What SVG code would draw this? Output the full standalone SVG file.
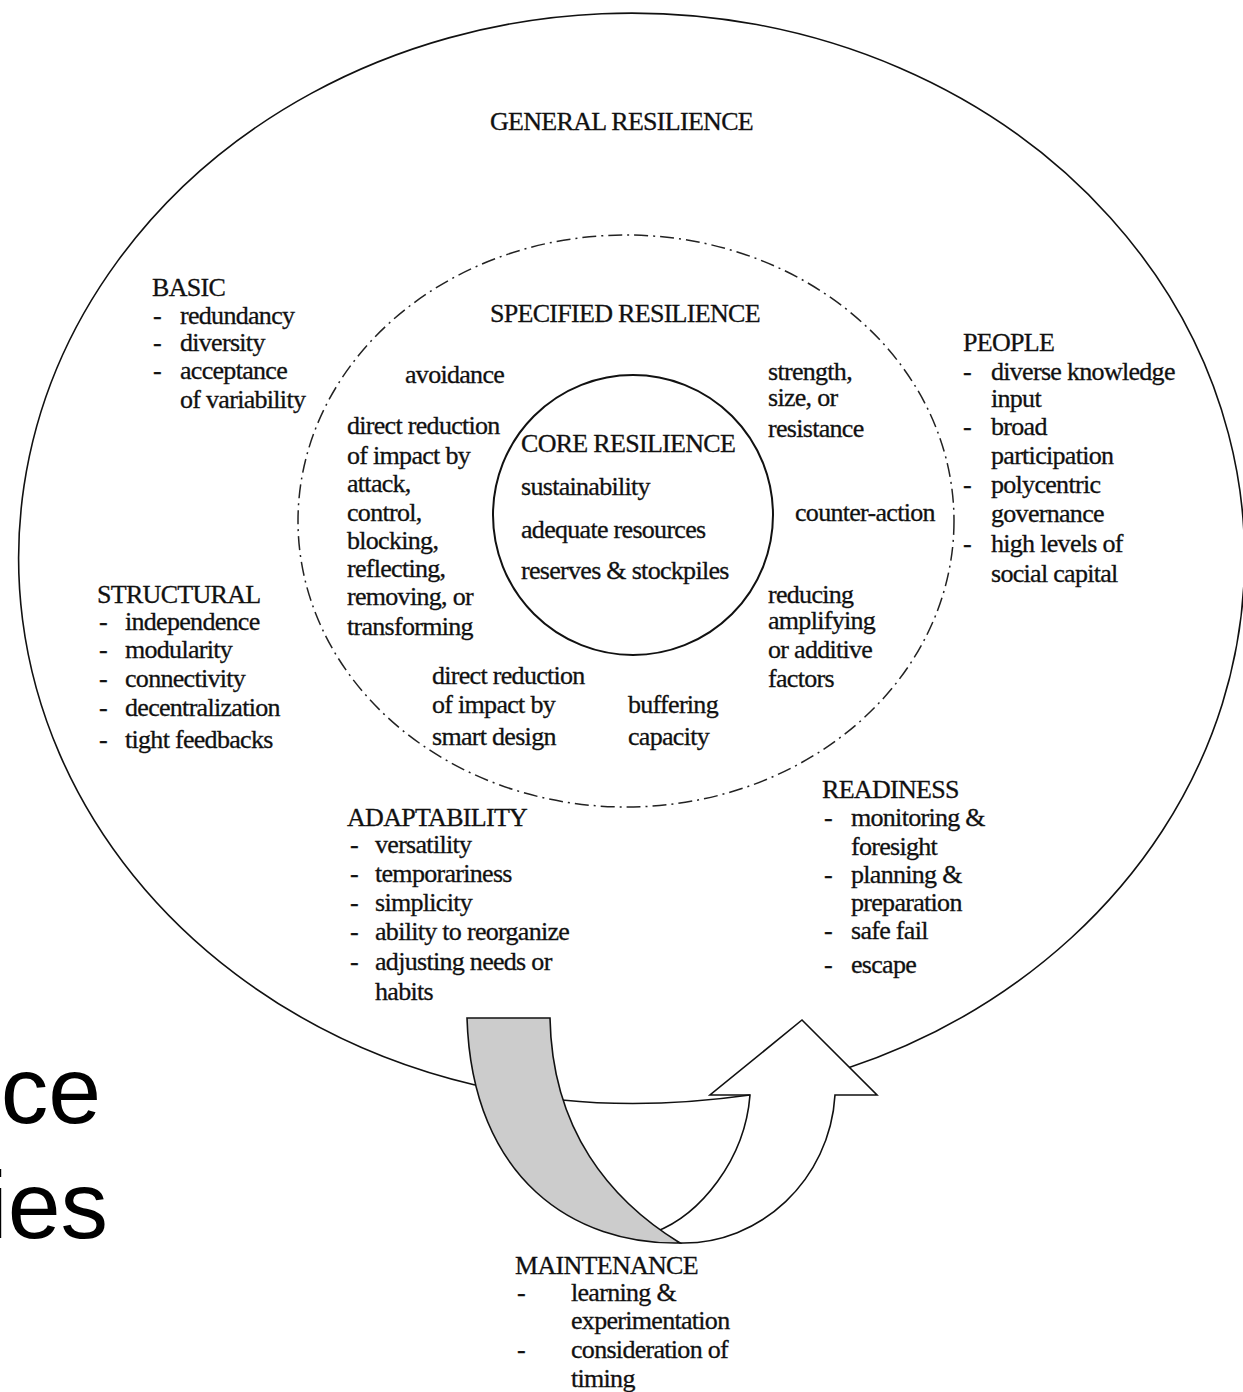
<svg xmlns="http://www.w3.org/2000/svg" width="1243" height="1392" viewBox="0 0 1243 1392">
<style>
.t{font-family:"Liberation Serif","Times New Roman",serif;font-size:26px;letter-spacing:-0.7px;fill:#111;stroke:#111;stroke-width:0.3}
.big{font-family:"Liberation Sans",Arial,sans-serif;font-size:95px;fill:#000}
.ln{fill:none;stroke:#111;stroke-width:1.6}
.dd{fill:none;stroke:#222;stroke-width:1.5;stroke-dasharray:14 5 2 5}
</style>
<rect width="1243" height="1392" fill="#fff"/>

<g id="side-text">
<text class="big" x="101" y="1123" text-anchor="end">ce</text>
<text class="big" x="108" y="1238" text-anchor="end">ies</text>
</g>

<g id="general-resilience">
<path class="ln" d="M 475 1085 A 613 545 0 1 1 845 1069"/>
<text class="t" x="490" y="130">GENERAL RESILIENCE</text>
</g>

<g id="specified-resilience">
<ellipse class="dd" cx="626" cy="521" rx="328" ry="286"/>
<text class="t" x="490" y="322">SPECIFIED RESILIENCE</text>
<text class="t" x="405" y="383">avoidance</text>
<text class="t" x="768" y="380">strength,</text>
<text class="t" x="768" y="406">size, or</text>
<text class="t" x="768" y="437">resistance</text>
<text class="t" x="347" y="434">direct reduction</text>
<text class="t" x="347" y="464">of impact by</text>
<text class="t" x="347" y="492">attack,</text>
<text class="t" x="347" y="521">control,</text>
<text class="t" x="347" y="549">blocking,</text>
<text class="t" x="347" y="577">reflecting,</text>
<text class="t" x="347" y="605">removing, or</text>
<text class="t" x="347" y="635">transforming</text>
<text class="t" x="795" y="521">counter-action</text>
<text class="t" x="768" y="603">reducing</text>
<text class="t" x="768" y="629">amplifying</text>
<text class="t" x="768" y="658">or additive</text>
<text class="t" x="768" y="687">factors</text>
<text class="t" x="432" y="684">direct reduction</text>
<text class="t" x="432" y="713">of impact by</text>
<text class="t" x="432" y="745">smart design</text>
<text class="t" x="628" y="713">buffering</text>
<text class="t" x="628" y="745">capacity</text>
</g>

<g id="core-resilience">
<circle cx="633" cy="515" r="140" fill="none" stroke="#111" stroke-width="2"/>
<text class="t" x="521" y="452">CORE RESILIENCE</text>
<text class="t" x="521" y="495">sustainability</text>
<text class="t" x="521" y="538">adequate resources</text>
<text class="t" x="521" y="579">reserves &amp; stockpiles</text>
</g>

<g id="basic">
<text class="t" x="152" y="296">BASIC</text>
<text class="t" x="153" y="324">-</text><text class="t" x="180" y="324">redundancy</text>
<text class="t" x="153" y="351">-</text><text class="t" x="180" y="351">diversity</text>
<text class="t" x="153" y="379">-</text><text class="t" x="180" y="379">acceptance</text>
<text class="t" x="180" y="408">of variability</text>
</g>

<g id="structural">
<text class="t" x="97" y="603">STRUCTURAL</text>
<text class="t" x="99" y="630">-</text><text class="t" x="125" y="630">independence</text>
<text class="t" x="99" y="658">-</text><text class="t" x="125" y="658">modularity</text>
<text class="t" x="99" y="687">-</text><text class="t" x="125" y="687">connectivity</text>
<text class="t" x="99" y="716">-</text><text class="t" x="125" y="716">decentralization</text>
<text class="t" x="99" y="748">-</text><text class="t" x="125" y="748">tight feedbacks</text>
</g>

<g id="people">
<text class="t" x="963" y="351">PEOPLE</text>
<text class="t" x="963" y="380">-</text><text class="t" x="991" y="380">diverse knowledge</text>
<text class="t" x="991" y="407">input</text>
<text class="t" x="963" y="435">-</text><text class="t" x="991" y="435">broad</text>
<text class="t" x="991" y="464">participation</text>
<text class="t" x="963" y="493">-</text><text class="t" x="991" y="493">polycentric</text>
<text class="t" x="991" y="522">governance</text>
<text class="t" x="963" y="552">-</text><text class="t" x="991" y="552">high levels of</text>
<text class="t" x="991" y="582">social capital</text>
</g>

<g id="adaptability">
<text class="t" x="347" y="826">ADAPTABILITY</text>
<text class="t" x="350" y="853">-</text><text class="t" x="375" y="853">versatility</text>
<text class="t" x="350" y="882">-</text><text class="t" x="375" y="882">temporariness</text>
<text class="t" x="350" y="911">-</text><text class="t" x="375" y="911">simplicity</text>
<text class="t" x="350" y="940">-</text><text class="t" x="375" y="940">ability to reorganize</text>
<text class="t" x="350" y="970">-</text><text class="t" x="375" y="970">adjusting needs or</text>
<text class="t" x="375" y="1000">habits</text>
</g>

<g id="readiness">
<text class="t" x="822" y="798">READINESS</text>
<text class="t" x="824" y="826">-</text><text class="t" x="851" y="826">monitoring &amp;</text>
<text class="t" x="851" y="855">foresight</text>
<text class="t" x="824" y="883">-</text><text class="t" x="851" y="883">planning &amp;</text>
<text class="t" x="851" y="911">preparation</text>
<text class="t" x="824" y="939">-</text><text class="t" x="851" y="939">safe fail</text>
<text class="t" x="824" y="973">-</text><text class="t" x="851" y="973">escape</text>
</g>

<g id="maintenance">
<text class="t" x="515" y="1274">MAINTENANCE</text>
<text class="t" x="517" y="1301">-</text><text class="t" x="571" y="1301">learning &amp;</text>
<text class="t" x="571" y="1329">experimentation</text>
<text class="t" x="517" y="1358">-</text><text class="t" x="571" y="1358">consideration of</text>
<text class="t" x="571" y="1387">timing</text>
</g>

<g id="connectors">
<path d="M 680 1243 C 760 1245 830 1180 835 1095 L 877 1095 L 802 1020 L 710 1095 L 750 1095 C 745 1160 700 1215 655 1232 Z" fill="#fff" stroke="#111" stroke-width="1.6" stroke-linejoin="miter"/>
<path class="ln" d="M 562 1100 Q 650 1109 750 1095"/>
<path d="M 467 1018 L 550 1018 C 552 1130 610 1200 680 1243 C 575 1245 472 1180 467 1018 Z" fill="#cccccc" stroke="#111" stroke-width="1.6"/>
</g>
</svg>
